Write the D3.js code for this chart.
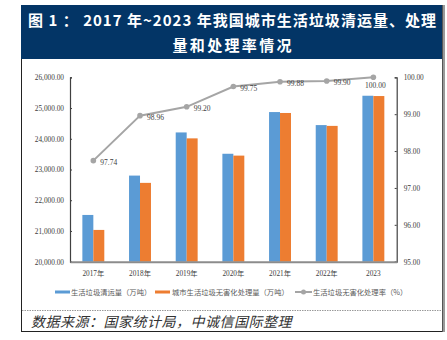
<!DOCTYPE html>
<html>
<head>
<meta charset="utf-8">
<script src="https://cdn.jsdelivr.net/npm/d3@7/dist/d3.min.js"></script>
<style>
  html, body { margin: 0; padding: 0; background: #fff; }
  svg { display: block; }
</style>
</head>
<body>
<svg id="chart" width="447" height="340"></svg>
<script>
// ---- data ----
const categories = ["2017年", "2018年", "2019年", "2020年", "2021年", "2022年", "2023"];
const collected = [21521, 22802, 24206, 23512, 24869, 24445, 25400];
const treated = [21034, 22565, 24013, 23452, 24839, 24419, 25390];
const rate = [97.74, 98.96, 99.20, 99.75, 99.88, 99.90, 100.00];
const rateLabels = ["97.74", "98.96", "99.20", "99.75", "99.88", "99.90", "100.00"];
const leftTicks = [20000, 21000, 22000, 23000, 24000, 25000, 26000];
const rightTicks = [95, 96, 97, 98, 99, 100];
const seriesNames = ["生活垃圾清运量（万吨）", "城市生活垃圾无害化处理量（万吨）", "生活垃圾无害化处理率（%）"];
const titleLines = ["图 1 ： 2017 年~2023 年我国城市生活垃圾清运量、处理", "量和处理率情况"];
const sourceText = "数据来源：国家统计局，中诚信国际整理";

const svg = d3.select("#chart");
const serif = "'Liberation Serif','Times New Roman','Noto Sans CJK SC',serif";
const cjk = "'Noto Sans CJK SC','Liberation Serif',sans-serif";

// ---- frame ----
svg.append("rect").attr("x", 21).attr("y", 5).attr("width", 422).attr("height", 54).attr("fill", "#033566");
svg.append("line").attr("x1", 21.5).attr("x2", 21.5).attr("y1", 59).attr("y2", 331.5).attr("stroke", "#222").attr("stroke-width", 1);
svg.append("line").attr("x1", 21).attr("x2", 443).attr("y1", 331.5).attr("y2", 331.5).attr("stroke", "#222").attr("stroke-width", 1);
svg.append("rect").attr("x", 442).attr("y", 5).attr("width", 3).attr("height", 327).attr("fill", "#9a9a9a");
svg.append("line").attr("x1", 442.5).attr("x2", 442.5).attr("y1", 5).attr("y2", 332).attr("stroke", "#555").attr("stroke-width", 1);
svg.append("line").attr("x1", 22).attr("x2", 442).attr("y1", 310.5).attr("y2", 310.5)
  .attr("stroke", "#999").attr("stroke-width", 1).attr("stroke-dasharray", "1.5,1");

// ---- title ----
const title = svg.append("text").attr("fill", "#fff").attr("font-family", cjk).attr("font-weight", "bold")
  .attr("font-size", 15).attr("text-anchor", "middle");
title.append("tspan").attr("x", 232).attr("y", 26).attr("textLength", 408).attr("lengthAdjust", "spacing").text(titleLines[0]);
title.append("tspan").attr("x", 232).attr("y", 51).attr("textLength", 119).attr("lengthAdjust", "spacing").text(titleLines[1]);

// ---- scales ----
const x0 = 70, x1 = 396.7, yTop = 77.3, yBot = 261.7;
const x = d3.scaleBand().domain(categories).range([x0, x1]).paddingInner(0.53).paddingOuter(0.265);
const sub = d3.scaleBand().domain([0, 1]).range([0, x.bandwidth()]);
const yL = d3.scaleLinear().domain([20000, 26000]).range([yBot, yTop]);
const yR = d3.scaleLinear().domain([95, 100]).range([yBot, yTop]);
const xc = d => x(d) + x.bandwidth() / 2;

// ---- bars ----
const colors = ["#5b9bd5", "#ed7d31"];
[collected, treated].forEach((vals, si) => {
  svg.append("g").selectAll("rect").data(vals).join("rect")
    .attr("x", (d, i) => x(categories[i]) + sub(si))
    .attr("y", d => yL(d))
    .attr("width", sub.bandwidth())
    .attr("height", d => yBot - yL(d))
    .attr("fill", colors[si]);
});

// ---- axes ----
const axL = svg.append("g").attr("transform", `translate(${x0},0)`)
  .call(d3.axisLeft(yL).tickValues(leftTicks).tickSize(-2).tickPadding(6).tickFormat(d3.format(",.2f")));
const axR = svg.append("g").attr("transform", `translate(${x1},0)`)
  .call(d3.axisRight(yR).tickValues(rightTicks).tickSize(-2).tickPadding(7).tickFormat(d3.format(".2f")));
[axL, axR].forEach(ax => {
  ax.select(".domain").attr("stroke", "#404040").attr("stroke-width", 1.2);
  ax.selectAll(".tick line").attr("stroke", "#404040");
  ax.selectAll("text").attr("font-family", serif).attr("font-size", 7.3).attr("fill", "#404040");
});
const axB = svg.append("g").attr("transform", `translate(0,${yBot})`)
  .call(d3.axisBottom(x).tickSize(0).tickPadding(9));
axB.select(".domain").attr("stroke", "#8c8c8c").attr("stroke-width", 2);
axB.selectAll("text").attr("font-family", serif).attr("font-size", 7.3).attr("fill", "#404040");

// ---- line ----
const lineGen = d3.line().x((d, i) => xc(categories[i])).y(d => yR(d));
svg.append("path").datum(rate).attr("d", lineGen).attr("fill", "none").attr("stroke", "#a5a5a5").attr("stroke-width", 2);
svg.append("g").selectAll("circle").data(rate).join("circle")
  .attr("cx", (d, i) => xc(categories[i])).attr("cy", d => yR(d)).attr("r", 2.8).attr("fill", "#a5a5a5");
svg.append("g").selectAll("text").data(rate).join("text")
  .attr("x", (d, i) => i === rate.length - 1 ? xc(categories[i]) + 2 : xc(categories[i]) + 7)
  .attr("y", (d, i) => i === rate.length - 1 ? yR(d) + 10.5 : yR(d) + 4)
  .attr("text-anchor", (d, i) => i === rate.length - 1 ? "middle" : "start")
  .attr("font-family", serif).attr("font-size", 7.5).attr("fill", "#404040")
  .text((d, i) => rateLabels[i]);

// ---- legend ----
const lg = svg.append("g").attr("font-family", cjk).attr("font-size", 7.3).attr("fill", "#595959");
const ly = 292;
const items = [
  { sx: 55, tx: 71, type: "bar", color: colors[0] },
  { sx: 155, tx: 172, type: "bar", color: colors[1] },
  { sx: 295, tx: 313, type: "line", color: "#a5a5a5" }
];
items.forEach((it, i) => {
  if (it.type === "bar") {
    lg.append("rect").attr("x", it.sx).attr("y", ly - 1.5).attr("width", 15).attr("height", 3).attr("fill", it.color);
  } else {
    lg.append("line").attr("x1", it.sx).attr("x2", it.sx + 17).attr("y1", ly).attr("y2", ly).attr("stroke", it.color).attr("stroke-width", 2);
    lg.append("circle").attr("cx", it.sx + 8.5).attr("cy", ly).attr("r", 2.5).attr("fill", it.color);
  }
  lg.append("text").attr("x", it.tx).attr("y", ly + 2.6).text(seriesNames[i]);
});

// ---- source ----
svg.append("text").attr("x", 31).attr("y", 327).attr("font-family", cjk).attr("font-size", 14)
  .attr("font-style", "italic").attr("fill", "#333").attr("letter-spacing", 0.5).text(sourceText);
</script>
</body>
</html>
